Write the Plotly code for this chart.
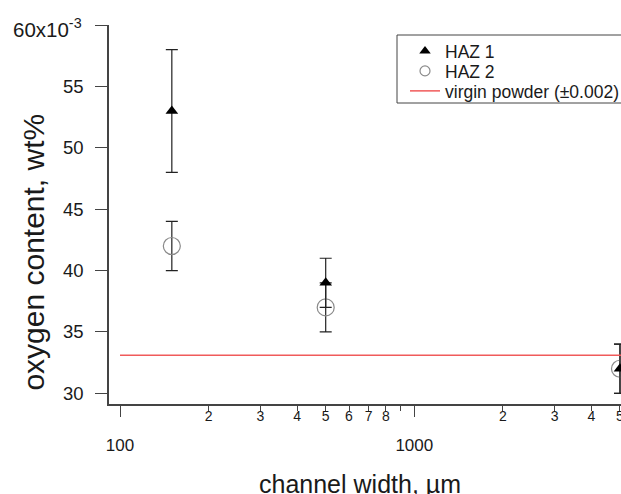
import plotly.graph_objects as go

# ---- data ----
channel_width = [150, 500, 5000]              # µm
haz1 = [0.053, 0.039, 0.032]                  # wt%
haz1_err = [0.005, 0.002, 0.002]
haz2 = [0.042, 0.037, 0.032]
haz2_err = [0.002, 0.002, 0.002]
virgin_x = [100, 10000]
virgin_y = [0.0331, 0.0331]

y_ticks = [0.030, 0.035, 0.040, 0.045, 0.050, 0.055]
y_ticktext = ["30", "35", "40", "45", "50", "55"]
y_top_tick = 0.060
y_top_label = "60x10<sup>-3</sup>"
x_major = [100, 1000]
x_major_text = ["100", "1000"]
x_minor_ticks = [200, 300, 400, 500, 600, 700, 800, 900, 2000, 3000, 4000, 5000]
x_minor_labels = [200, 300, 400, 500, 600, 700, 800, 2000, 3000, 4000, 5000]
x_minor_text = ["2", "3", "4", "5", "6", "7", "8", "2", "3", "4", "5"]
legend_names = ["HAZ 1", "HAZ 2", "virgin powder (±0.002)"]

FONT = "Liberation Sans, Arial, sans-serif"
TXT = "#1a1a1a"
AX = "#444444"
RED = "#f05a5a"
GRAY = "#8a8a8a"
xrange = [1.9626, 3.7024]

fig = go.Figure()

# data traces (HAZ 2 under HAZ 1)
fig.add_trace(go.Scatter(
    x=channel_width, y=haz2, mode="markers", name=legend_names[1], showlegend=False,
    marker=dict(symbol="circle-open", size=17, color=GRAY, line=dict(width=1.2, color=GRAY)),
    error_y=dict(type="data", array=haz2_err, color="#222222", thickness=1.2, width=6),
    cliponaxis=False,
))
fig.add_trace(go.Scatter(
    x=channel_width, y=haz1, mode="markers", name=legend_names[0], showlegend=False,
    marker=dict(symbol="triangle-up", size=11, color="black"),
    error_y=dict(type="data", array=haz1_err, color="#222222", thickness=1.2, width=6),
    cliponaxis=False,
))
fig.add_trace(go.Scatter(
    x=virgin_x, y=virgin_y, mode="lines", name=legend_names[2], showlegend=False,
    line=dict(color=RED, width=1.5),
))

# legend entries (one small legend per entry for tight spacing)
fig.add_trace(go.Scatter(x=[None], y=[None], mode="markers", name=legend_names[0], legend="legend",
                         marker=dict(symbol="triangle-up", size=10, color="black")))
fig.add_trace(go.Scatter(x=[None], y=[None], mode="markers", name=legend_names[1], legend="legend2",
                         marker=dict(symbol="circle-open", size=10, color=GRAY,
                                     line=dict(width=1.2, color=GRAY))))
fig.add_trace(go.Scatter(x=[None], y=[None], mode="lines", name=legend_names[2], legend="legend3",
                         line=dict(color=RED, width=1.5)))

# trace that activates the minor-label axis
fig.add_trace(go.Scatter(x=[channel_width[0]], y=[haz1[0]], xaxis="x2", mode="markers",
                         marker=dict(opacity=0), showlegend=False, hoverinfo="skip"))

leg_common = dict(xref="container", yref="container", x=405/621, xanchor="left", yanchor="middle",
                  bgcolor="rgba(0,0,0,0)", borderwidth=0,
                  font=dict(size=17.5, family=FONT, color=TXT))

fig.update_layout(
    template="none",
    width=621, height=494,
    margin=dict(l=109, r=0, t=25, b=90, autoexpand=False),
    paper_bgcolor="white", plot_bgcolor="white",
    font=dict(family=FONT, color=TXT),
    xaxis=dict(
        type="log", range=xrange, tickmode="array", tickvals=x_major, ticktext=x_major_text,
        ticks="outside", ticklen=11, tickwidth=1.3, tickcolor=AX,
        tickfont=dict(size=17, color=TXT), ticklabelstandoff=14,
        minor=dict(tickmode="array", tickvals=x_minor_ticks, ticks="outside", ticklen=5,
                   tickwidth=1.3, tickcolor=AX, showgrid=False),
        showline=True, linecolor=AX, linewidth=1.5, showgrid=False, zeroline=False,
    ),
    xaxis2=dict(
        type="log", range=xrange, overlaying="x", anchor="y", side="bottom",
        tickmode="array", tickvals=x_minor_labels, ticktext=x_minor_text,
        ticks="", tickfont=dict(size=14, color=TXT), ticklabelstandoff=2,
        ticklabeloverflow="allow",
        showline=False, showgrid=False, zeroline=False,
    ),
    yaxis=dict(
        range=[0.02913, 0.060], tickmode="array", tickvals=y_ticks, ticktext=y_ticktext,
        ticks="outside", ticklen=12, tickwidth=1.3, tickcolor=AX,
        tickfont=dict(size=18.5, color=TXT), ticklabelstandoff=8,
        minor=dict(tickmode="array", tickvals=[y_top_tick], ticks="outside", ticklen=12,
                   tickwidth=1.3, tickcolor=AX, showgrid=False),
        showline=True, linecolor=AX, linewidth=1.5, showgrid=False, zeroline=False,
    ),
    legend=dict(y=1 - 51/494, **leg_common),
    legend2=dict(y=1 - 71/494, **leg_common),
    legend3=dict(y=1 - 91/494, **leg_common),
    showlegend=True,
)

# legend frame (extends past the right edge as in the reference)
fig.add_shape(type="rect", xref="paper", yref="paper",
              x0=(397 - 109) / 512, x1=1.02, y0=(404 - 103) / 379, y1=(404 - 35) / 379,
              line=dict(color=AX, width=1), fillcolor="white", layer="below")

fig.add_annotation(text=y_top_label, xref="paper", yref="y", x=-0.0488, y=y_top_tick,
                   xanchor="right", yanchor="middle", yshift=-3, showarrow=False,
                   font=dict(size=20.5, family=FONT, color=TXT))
fig.add_annotation(text="oxygen content, wt%", xref="paper", yref="paper",
                   x=-0.148, y=0.400, xanchor="center", yanchor="middle",
                   textangle=-90, showarrow=False, font=dict(size=30, family=FONT, color=TXT))
fig.add_annotation(text="channel width, µm", xref="paper", yref="paper",
                   x=0.490, y=-0.211, xanchor="center", yanchor="middle",
                   showarrow=False, font=dict(size=25, family=FONT, color=TXT))

fig.write_html("out.html", post_script="document.body.style.margin='0';",
               config={"displayModeBar": False})
